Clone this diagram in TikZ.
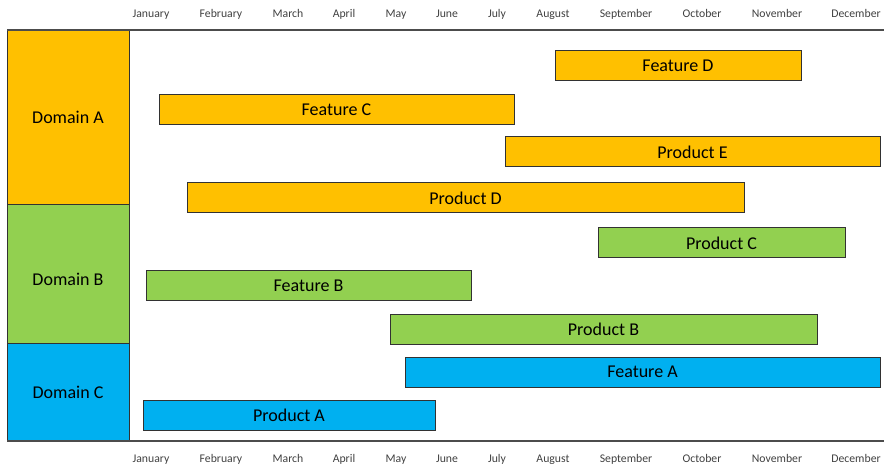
\documentclass[tikz,border=0pt]{standalone}
\usepackage{fontspec}
\setmainfont{Carlito}
\definecolor{domA}{RGB}{255,192,0}
\definecolor{domB}{RGB}{146,208,80}
\definecolor{domC}{RGB}{0,176,240}
\definecolor{edge}{RGB}{50,50,50}
\tikzset{every picture/.style={line width=0.75pt}}
\tikzset{
  domainbox/.style={draw=edge, minimum width=91.5pt, inner sep=0pt, font=\fontsize{13.5}{15}\selectfont},
  roadbar/.style={draw=edge, minimum height=22.5pt, inner sep=0pt, font=\fontsize{13.5}{15}\selectfont},
  monthlabel/.style={text=black!75, inner sep=0pt, anchor=base, font=\fontsize{8.8}{10}\selectfont},
  axisline/.style={draw=black!70, line width=1.1pt}
}
\begin{document}
\begin{tikzpicture}[x=0.75pt,y=0.75pt,yscale=-1,xscale=1]
	\useasboundingbox (0,0) rectangle (884,466);

	%Shape: Domain column
	\node [domainbox, fill=domA, minimum height=131.25pt] (domA) at (68,117.5) {Domain A};
	\node [domainbox, fill=domB, minimum height=103.5pt] (domB) at (68,274) {};
	\node [font=\fontsize{13.5}{15}\selectfont, inner sep=0pt] (domBtext) at (68,279) {Domain B};
	\node [domainbox, fill=domC, minimum height=73.5pt] (domC) at (68,392) {Domain C};

	%Straight Lines: top and bottom axis
	\draw [axisline] (7,30) -- (884,30) ;
	\draw [axisline] (7,441) -- (884,441) ;

	%Shape: Bars of Domain A
	\node [roadbar, fill=domA, minimum width=184.5pt] (featD) at (678,66) {Feature D};
	\node [roadbar, fill=domA, minimum width=266.25pt] (featC) at (336.5,110) {Feature C};
	\node [roadbar, fill=domA, minimum width=281.25pt] (prodE) at (692.5,152) {Product E};
	\node [roadbar, fill=domA, minimum width=417.75pt] (prodD) at (465.5,198) {Product D};
	%Shape: Bars of Domain B
	\node [roadbar, fill=domB, minimum width=185.25pt] (prodC) at (721.5,243) {Product C};
	\node [roadbar, fill=domB, minimum width=243.75pt] (featB) at (308.5,285.5) {Feature B};
	\node [roadbar, fill=domB, minimum width=320.25pt] (prodB) at (603.5,329) {Product B};
	%Shape: Bars of Domain C
	\node [roadbar, fill=domC, minimum width=356.25pt] (featA) at (642.5,372) {Feature A};
	\node [roadbar, fill=domC, minimum width=219pt] (prodA) at (289,415.5) {Product A};

	% Text Node: months on top
	\node [monthlabel] (janT) at (151,18) {January};
	\node [monthlabel] (febT) at (221,18) {February};
	\node [monthlabel] (marT) at (288,18) {March};
	\node [monthlabel] (aprT) at (344,18) {April};
	\node [monthlabel] (mayT) at (396,18) {May};
	\node [monthlabel] (junT) at (447,18) {June};
	\node [monthlabel] (julT) at (497,18) {July};
	\node [monthlabel] (augT) at (553,18) {August};
	\node [monthlabel] (sepT) at (626,18) {September};
	\node [monthlabel] (octT) at (702,18) {October};
	\node [monthlabel] (novT) at (777,18) {November};
	\node [monthlabel] (decT) at (856,18) {December};

	% Text Node: months at bottom
	\node [monthlabel] (janB) at (151,462) {January};
	\node [monthlabel] (febB) at (221,462) {February};
	\node [monthlabel] (marB) at (288,462) {March};
	\node [monthlabel] (aprB) at (344,462) {April};
	\node [monthlabel] (mayB) at (396,462) {May};
	\node [monthlabel] (junB) at (447,462) {June};
	\node [monthlabel] (julB) at (497,462) {July};
	\node [monthlabel] (augB) at (553,462) {August};
	\node [monthlabel] (sepB) at (626,462) {September};
	\node [monthlabel] (octB) at (702,462) {October};
	\node [monthlabel] (novB) at (777,462) {November};
	\node [monthlabel] (decB) at (856,462) {December};

\end{tikzpicture}
\end{document}
